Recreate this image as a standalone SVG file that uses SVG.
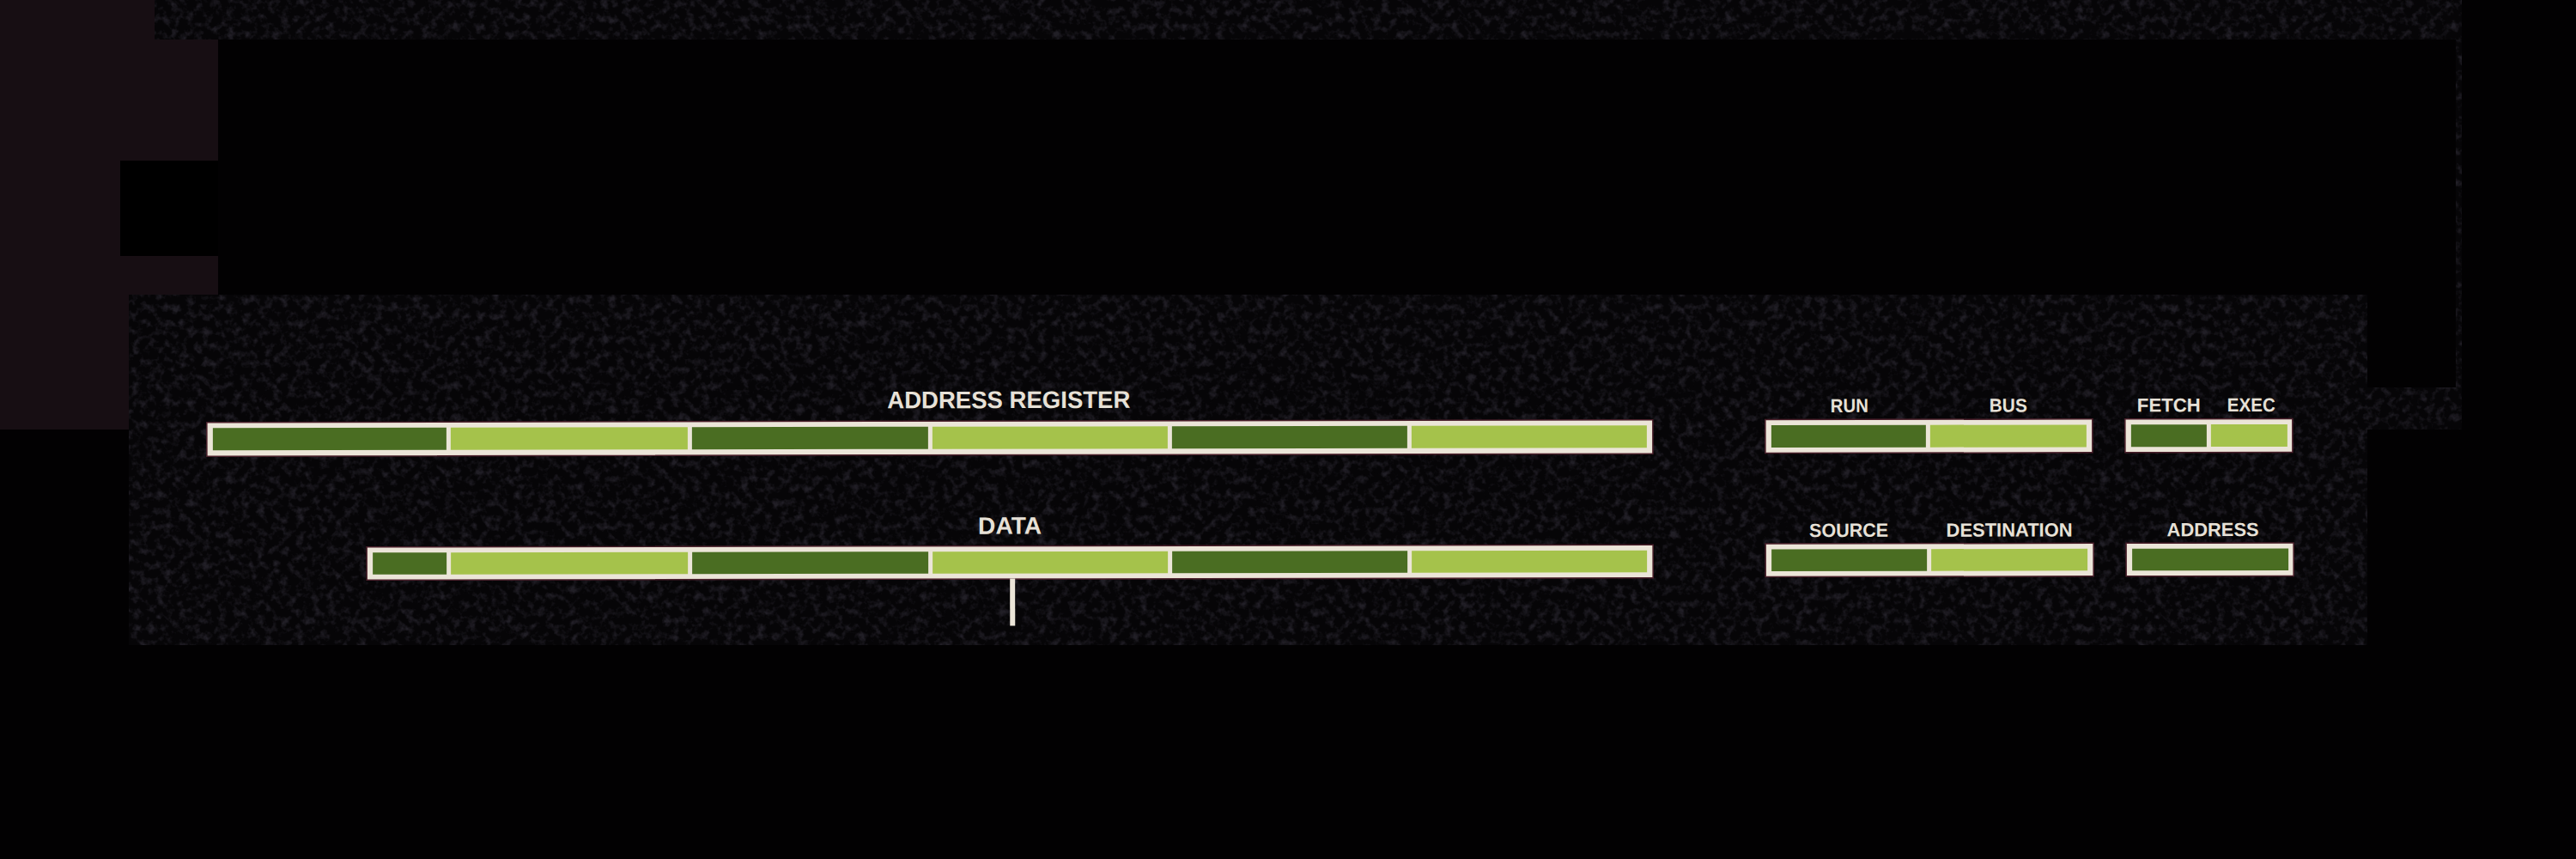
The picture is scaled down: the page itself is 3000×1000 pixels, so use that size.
<svg xmlns="http://www.w3.org/2000/svg" width="3000" height="1000" viewBox="0 0 3000 1000">
  <defs>
    <filter id="grain" x="0" y="0" width="100%" height="100%" filterUnits="objectBoundingBox" color-interpolation-filters="sRGB">
      <feTurbulence type="fractalNoise" baseFrequency="0.11" numOctaves="3" seed="7" result="n"/>
      <feColorMatrix in="n" type="matrix" values="0 0 0 0 0.13  0 0 0 0 0.12  0 0 0 0 0.15  2.8 0 0 0 -1.3" result="s"/>
      <feComposite in="s" in2="SourceGraphic" operator="in" result="c"/>
      <feMerge><feMergeNode in="SourceGraphic"/><feMergeNode in="c"/></feMerge>
    </filter>
  </defs>
  <style>
    .frame { fill: #ebe5d8; stroke: #4a1f2a; stroke-width: 1.5; }
    .dk { fill: #4a6d22; }
    .lt { fill: #a5c24b; }
    .lbl { font-family: "Liberation Sans", Arial, sans-serif; font-weight: bold; fill: #e7e1d7; text-anchor: middle; }
    .big { font-size: 28px; }
    .small { font-size: 22px; }
    .wire { fill: #ebe5d8; }
  </style>

  <!-- background -->
  <rect width="3000" height="1000" fill="#020102"/>
  <path d="M0 0H254V343H150V500H0Z" fill="#170e13"/>
  <rect x="140" y="187" width="114" height="111" fill="#000"/>
  <g filter="url(#grain)">
    <rect x="180" y="0" width="2687" height="46" fill="#060507"/>
    <rect x="150" y="343" width="2607" height="408" fill="#060507"/>
    <rect x="2757" y="451" width="110" height="49" fill="#060507"/>
    <rect x="2860" y="46" width="7" height="405" fill="#060507"/>
  </g>

  <g transform="rotate(-0.1 1500 580)">
    <g id="address-register">
      <text class="lbl big" x="1175" y="474.5" textLength="283" lengthAdjust="spacingAndGlyphs">ADDRESS REGISTER</text>
      <rect class="frame" x="241" y="489.5" width="1684" height="39.5"/>
      <rect class="dk" x="248" y="496" width="272" height="26"/>
      <rect class="lt" x="525" y="496" width="276" height="26"/>
      <rect class="dk" x="806" y="496" width="275" height="26"/>
      <rect class="lt" x="1086" y="496" width="274" height="26"/>
      <rect class="dk" x="1365" y="496" width="274" height="26"/>
      <rect class="lt" x="1644" y="496" width="274" height="26"/>
    </g>

    <g id="data">
      <text class="lbl big" x="1176" y="621" textLength="74" lengthAdjust="spacingAndGlyphs">DATA</text>
      <rect class="frame" x="427" y="635" width="1498" height="38.5"/>
      <rect class="dk" x="434" y="641.5" width="86" height="25.5"/>
      <rect class="lt" x="525" y="641.5" width="276" height="25.5"/>
      <rect class="dk" x="806" y="641.5" width="275" height="25.5"/>
      <rect class="lt" x="1086" y="641.5" width="274" height="25.5"/>
      <rect class="dk" x="1365" y="641.5" width="274" height="25.5"/>
      <rect class="lt" x="1644" y="641.5" width="274" height="25.5"/>
    </g>

    <g id="run-bus">
      <text class="lbl small" x="2154" y="481" textLength="44" lengthAdjust="spacingAndGlyphs">RUN</text>
      <text class="lbl small" x="2339" y="481" textLength="44" lengthAdjust="spacingAndGlyphs">BUS</text>
      <rect class="frame" x="2056" y="489.5" width="381" height="39"/>
      <rect class="dk" x="2063" y="496" width="180" height="26"/>
      <rect class="lt" x="2248" y="496" width="182" height="26"/>
    </g>

    <g id="fetch-exec">
      <text class="lbl small" x="2526" y="481" textLength="74" lengthAdjust="spacingAndGlyphs">FETCH</text>
      <text class="lbl small" x="2622" y="481" textLength="56" lengthAdjust="spacingAndGlyphs">EXEC</text>
      <rect class="frame" x="2475" y="489.5" width="195" height="39"/>
      <rect class="dk" x="2482" y="496" width="88" height="26"/>
      <rect class="lt" x="2575" y="496" width="89" height="26"/>
    </g>

    <g id="source-destination">
      <text class="lbl small" x="2153" y="626" textLength="92" lengthAdjust="spacingAndGlyphs">SOURCE</text>
      <text class="lbl small" x="2340" y="626" textLength="147" lengthAdjust="spacingAndGlyphs">DESTINATION</text>
      <rect class="frame" x="2056" y="634" width="382" height="38.5"/>
      <rect class="dk" x="2063" y="640.5" width="181" height="25.5"/>
      <rect class="lt" x="2249" y="640.5" width="182" height="25.5"/>
    </g>

    <g id="address">
      <text class="lbl small" x="2577" y="626" textLength="107" lengthAdjust="spacingAndGlyphs">ADDRESS</text>
      <rect class="frame" x="2476" y="634" width="195" height="38.5"/>
      <rect class="dk" x="2483" y="640.5" width="182" height="25.5"/>
    </g>

    <g id="connectors">
      <rect class="wire" x="1176" y="673" width="6" height="55"/>
    </g>
  </g>
</svg>
